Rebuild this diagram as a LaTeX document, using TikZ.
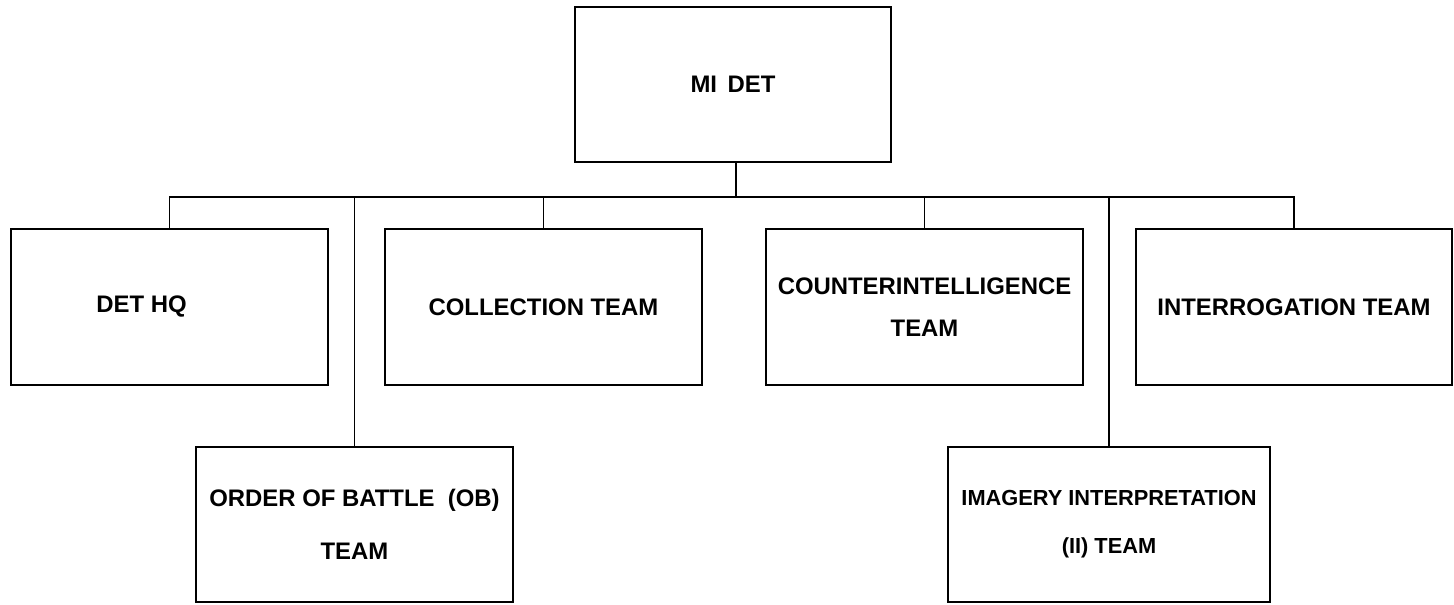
\documentclass[tikz,border=0pt]{standalone}
\usepackage{fontspec}
\setmainfont{Liberation Sans}
\begin{document}
\begin{tikzpicture}[x=0.025cm, y=-0.025cm,
    caixa/.style={draw, line width=1.4pt, minimum width=7.9cm, minimum height=3.9cm,
      inner sep=0pt, align=center, font=\fontsize{17}{20}\selectfont\bfseries},
    linha/.style={line width=1.2pt}]
    \useasboundingbox (0,0) rectangle (1454,605);
    % Topo
    \node at (733,84.5) (mi) [caixa, minimum height=3.875cm] {MI\, DET};
    % Primeira fila
    \node at (169.5,307) (hq) [caixa] {DET HQ\hspace{1.4cm}\mbox{}};
    \node at (543.5,307) (col) [caixa] {COLLECTION TEAM};
    \node at (924.5,307) (ci) [caixa] {COUNTERINTELLIGENCE\\[10pt]TEAM};
    \node at (1294,307) (int) [caixa] {INTERROGATION TEAM};
    % Segunda fila
    \node at (354.5,524.5) (ob) [caixa, minimum height=3.875cm] {ORDER OF BATTLE\ \ (OB)\\[18pt]TEAM};
    \node at (1109,524.5) (ii) [caixa, minimum height=3.875cm, minimum width=8.05cm,
      font=\fontsize{15.5}{20}\selectfont\bfseries] {IMAGERY INTERPRETATION\\[14pt](II) TEAM};
    % Ligacoes
    \coordinate (bar) at (736,197);
    \draw[linha] (bar |- mi.south) -- (bar);
    \draw[linha] (hq.north) |- (bar) -| (int.north);
    \foreach \n in {col, ci, ob, ii}
        \draw[linha] (\n.north) -- (\n.north |- bar);
\end{tikzpicture}
\end{document}
